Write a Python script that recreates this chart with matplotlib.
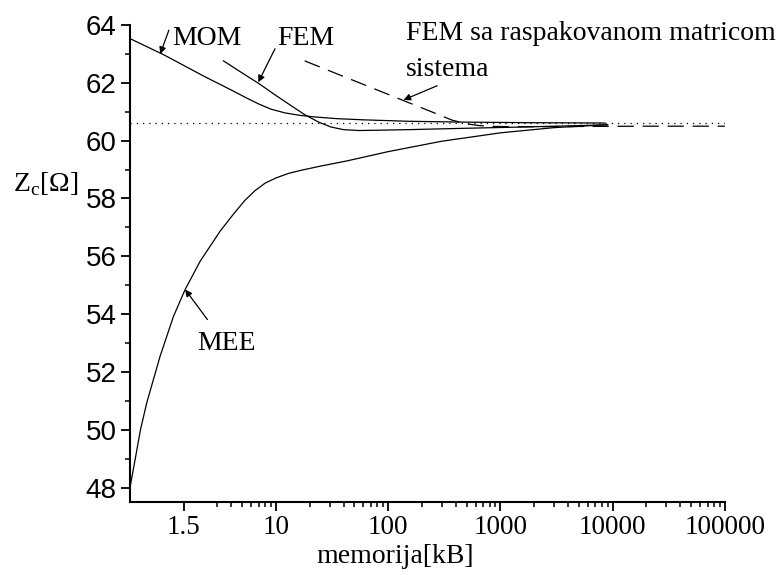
import matplotlib
matplotlib.use('Agg')
import matplotlib.pyplot as plt
from matplotlib.ticker import NullFormatter

# memorija [kB] -> Zc [Ohm], procitano sa slike
mom_x = [0.5, 1.0, 2.3, 4.0, 5.5, 7.0, 9.0, 12, 16, 22, 35, 60, 150, 500, 2000, 8500]
mom_y = [63.53, 62.97, 62.22, 61.75, 61.47, 61.27, 61.09, 60.96, 60.88, 60.82, 60.76, 60.72, 60.67, 60.64, 60.62, 60.61]

fem_x = [3.4, 5, 7, 10, 14, 18, 24, 31, 40, 55, 80, 150, 400, 1500, 5000, 9000]
fem_y = [62.76, 62.34, 61.98, 61.56, 61.18, 60.90, 60.64, 60.47, 60.38, 60.35, 60.36, 60.38, 60.42, 60.47, 60.52, 60.55]

# FEM sa raspakovanom matricom sistema
femr_x = [18, 40, 80, 140, 250, 370, 500, 650, 900, 1500, 5000, 20000, 100000]
femr_y = [62.76, 62.22, 61.75, 61.37, 60.98, 60.71, 60.58, 60.52, 60.49, 60.48, 60.49, 60.5, 60.5]

mee_x = [0.5, 0.555, 0.62, 0.705, 0.927, 1.22, 1.55, 2.11, 3.18, 4.2, 5.3, 6.5, 8, 10, 13, 17, 25, 43, 100, 300, 1000, 3000, 9000]
mee_y = [48.0, 48.96, 50.0, 50.93, 52.54, 53.92, 54.85, 55.83, 56.87, 57.47, 57.94, 58.27, 58.53, 58.71, 58.87, 58.98, 59.12, 59.3, 59.62, 59.98, 60.27, 60.45, 60.55]

zc_tacno = 60.6

xticks = [1.5, 10, 100, 1000, 10000, 100000]
xtick_labels = ['1.5', '10', '100', '1000', '10000', '100000']
yticks = [48, 50, 52, 54, 56, 58, 60, 62, 64]

serif = 'Liberation Serif'
sans = 'Liberation Sans'
plt.rcParams['mathtext.fontset'] = 'custom'
plt.rcParams['mathtext.rm'] = serif

fig = plt.figure(figsize=(7.77, 5.75), dpi=100)
ax = fig.add_axes([0.1673, 0.127, 0.7657, 0.8295])

ax.plot(mom_x, mom_y, color='k', lw=0.9)
ax.plot(fem_x, fem_y, color='k', lw=0.9)
ax.plot(femr_x, femr_y, color='k', lw=0.9, dashes=(13, 7))
ax.plot(mee_x, mee_y, color='k', lw=0.9)
ax.axhline(zc_tacno, color='k', lw=0.9, dashes=(1, 4))

ax.set_xscale('log')
ax.set_xlim(0.5, 1e5)
ax.set_ylim(47.5, 64)
ax.set_xticks(xticks)
ax.set_xticklabels(xtick_labels, fontfamily=serif, fontsize=19.5)
minor = [m * 10 ** k for k in range(0, 5) for m in range(2, 10) if m * 10 ** k > 2]
ax.set_xticks(minor, minor=True)
ax.xaxis.set_minor_formatter(NullFormatter())
ax.set_yticks(yticks)
ax.set_yticklabels([str(v) for v in yticks], fontfamily=sans, fontsize=20)
ax.set_yticks(range(49, 64, 2), minor=True)

for s in ['top', 'right']:
    ax.spines[s].set_visible(False)
for s in ['left', 'bottom']:
    ax.spines[s].set_linewidth(1.5)
ax.tick_params(which='major', direction='out', length=6.5, width=1.3, pad=3)
ax.tick_params(which='minor', direction='out', length=3.6, width=1.1)

# oznake krivih
txt = dict(fontfamily=serif, fontsize=20, va='baseline')
ax.text(1.18, 63.3, 'MOM', **txt)
ax.text(10.3, 63.3, 'FEM', **txt)
ax.text(143, 63.47, 'FEM sa raspakovanom matricom', **txt)
ax.text(143, 62.24, 'sistema', **txt)
ax.text(1.97, 52.75, 'MEE', **txt)

arr = dict(arrowstyle='-|>', color='k', lw=0.9, mutation_scale=10, shrinkA=0, shrinkB=0)
ax.annotate('', xy=(0.93, 63.0), xytext=(1.11, 63.82), arrowprops=arr)
ax.annotate('', xy=(6.95, 62.02), xytext=(9.8, 63.18), arrowprops=arr)
ax.annotate('', xy=(137, 61.41), xytext=(273, 61.9), arrowprops=arr)
ax.annotate('', xy=(1.55, 54.85), xytext=(2.45, 53.81), arrowprops=arr)

fig.text(395 / 777, 1 - 563 / 575, 'memorija[kB]', ha='center', va='baseline',
         fontfamily=serif, fontsize=20)
fig.text(13 / 777, 1 - 191 / 575, r'Z$_\mathrm{c}$[Ω]', ha='left', va='baseline',
         fontfamily=serif, fontsize=20)

fig.savefig('out.png', dpi=100)
